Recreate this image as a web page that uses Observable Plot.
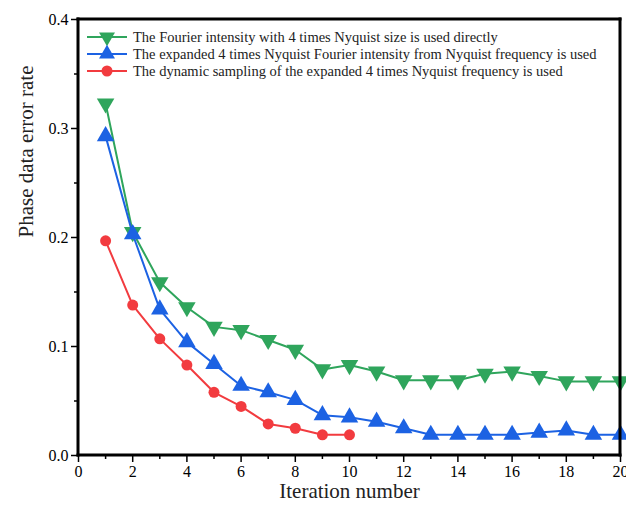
<!DOCTYPE html>
<html><head><meta charset="utf-8">
<script src="https://cdn.jsdelivr.net/npm/d3@7"></script>
<script src="https://cdn.jsdelivr.net/npm/@observablehq/plot@0.6"></script>
<style>body{margin:0;background:#fff}</style>
</head><body><div id="chart"></div>
<script>
const iterGreen = [1,2,3,4,5,6,7,8,9,10,11,12,13,14,15,16,17,18,19,20];
const valGreen = [0.323,0.205,0.159,0.136,0.118,0.115,0.106,0.097,0.079,0.083,0.077,0.069,0.069,0.069,0.075,0.077,0.073,0.068,0.068,0.068];
const iterBlue = [1,2,3,4,5,6,7,8,9,10,11,12,13,14,15,16,17,18,19,20];
const valBlue = [0.293,0.203,0.134,0.104,0.084,0.064,0.058,0.051,0.037,0.035,0.031,0.025,0.019,0.019,0.019,0.019,0.021,0.023,0.019,0.019];
const iterRed = [1,2,3,4,5,6,7,8,9,10];
const valRed = [0.197,0.138,0.107,0.083,0.058,0.045,0.029,0.025,0.019,0.019];
const seriesNames = [
  "The Fourier intensity with 4 times Nyquist size is used directly",
  "The expanded 4 times Nyquist Fourier intensity from Nyquist frequency is used",
  "The dynamic sampling of the expanded 4 times Nyquist frequency is used"
];
const colors = ["#2fa55c", "#1c62e3", "#f23b3f"];
const xDomain = [0, 20];
const yDomain = [0, 0.4];
const xTicks = [0,2,4,6,8,10,12,14,16,18,20];
const xMinor = [1,3,5,7,9,11,13,15,17,19];
const yTicks = [0.0,0.1,0.2,0.3,0.4];
const yMinor = [0.05,0.15,0.25,0.35];

const green = iterGreen.map((x,i)=>({x, y: valGreen[i]}));
const blue = iterBlue.map((x,i)=>({x, y: valBlue[i]}));
const red = iterRed.map((x,i)=>({x, y: valRed[i]}));

const font = "'Liberation Serif', 'Times New Roman', serif";
const W = 626, H = 514;
const chart = Plot.plot({
  width: W, height: H,
  marginLeft: 78, marginRight: 6, marginTop: 19, marginBottom: 59,
  style: {fontFamily: font, fontSize: "16px", background: "#fff", color: "black"},
  x: {domain: xDomain, label: null},
  y: {domain: yDomain, label: null},
  marks: [
    Plot.axisX({ticks: xTicks, tickSize: 7, tickPadding: 3, fontSize: 16, tickFormat: d3.format("d"), strokeWidth: 1.5}),
    Plot.axisX({ticks: xMinor, tickSize: 4, tickFormat: () => "", strokeWidth: 1.5}),
    Plot.axisY({ticks: yTicks, tickSize: 7, tickPadding: 3, fontSize: 16, tickFormat: d3.format(".1f"), strokeWidth: 1.5}),
    Plot.axisY({ticks: yMinor, tickSize: 4, tickFormat: () => "", strokeWidth: 1.5}),
    Plot.line(green, {x: "x", y: "y", stroke: colors[0], strokeWidth: 2}),
    Plot.dot(green, {x: "x", y: "y", symbol: "triangle", rotate: 180, r: 6.5, fill: colors[0], stroke: null}),
    Plot.line(blue, {x: "x", y: "y", stroke: colors[1], strokeWidth: 2}),
    Plot.dot(blue, {x: "x", y: "y", symbol: "triangle", r: 6.5, fill: colors[1], stroke: null}),
    Plot.line(red, {x: "x", y: "y", stroke: colors[2], strokeWidth: 2}),
    Plot.dot(red, {x: "x", y: "y", symbol: "circle", r: 5.5, fill: colors[2], stroke: null}),
    Plot.text(["Iteration number"], {frameAnchor: "bottom", dy: 42, fontSize: 21, fill: "#222"}),
    Plot.text(["Phase data error rate"], {frameAnchor: "left", dx: -52, rotate: -90, fontSize: 21, fill: "#222"})
  ]
});
document.getElementById("chart").appendChild(chart);

const svg = d3.select(chart);
const xr = chart.scale("x").range, yr = chart.scale("y").range;
const x0 = Math.min(...xr), x1 = Math.max(...xr), y0 = Math.min(...yr), y1 = Math.max(...yr);
// plot frame box
[[x0,y0,x1,y0],[x1,y0,x1,y1],[x0,y1,x1,y1],[x0,y0,x0,y1]].forEach(([a,b,c,d]) =>
  svg.append("line").attr("x1", a).attr("y1", b).attr("x2", c).attr("y2", d)
    .attr("stroke", "black").attr("stroke-width", 3).attr("stroke-linecap", "square"));

// legend inside the plot frame, top-left
const lg = svg.append("g").attr("transform", `translate(${x0 + 9},${y0 + 18})`).attr("text-anchor", "start");
const symbols = [d3.symbolTriangle, d3.symbolTriangle, d3.symbolCircle];
seriesNames.forEach((name, i) => {
  const g = lg.append("g").attr("transform", `translate(0,${i*17})`);
  g.append("line").attr("x1", 0).attr("x2", 40).attr("y1", 0).attr("y2", 0)
    .attr("stroke", colors[i]).attr("stroke-width", 2);
  g.append("path").attr("d", d3.symbol(symbols[i], i === 2 ? 95 : 110)())
    .attr("transform", `translate(20,0) rotate(${i === 0 ? 180 : 0})`)
    .attr("fill", colors[i]);
  g.append("text").attr("x", 46).attr("y", 0).attr("dy", "0.35em").attr("text-anchor", "start")
    .attr("font-family", font).attr("font-size", 14.5).attr("fill", "#222").text(name);
});
</script>
</body></html>
